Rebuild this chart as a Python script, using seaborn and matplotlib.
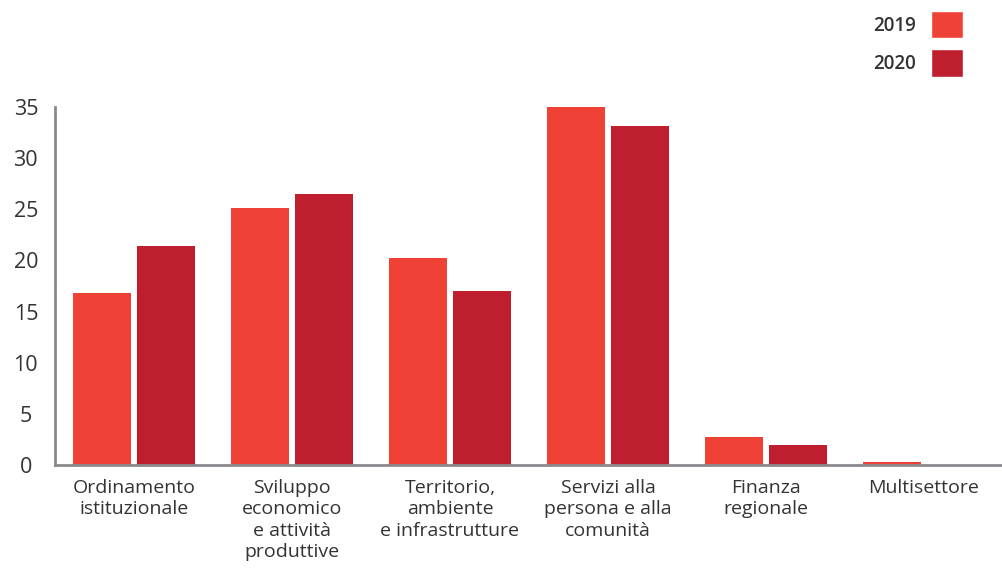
import matplotlib
matplotlib.use("Agg")
import matplotlib.pyplot as plt
from matplotlib.patches import Patch
import seaborn as sns
import pandas as pd

categories = [
    "Ordinamento\nistituzionale",
    "Sviluppo\neconomico\ne attività\nproduttive",
    "Territorio,\nambiente\ne infrastrutture",
    "Servizi alla\npersona e alla\ncomunità",
    "Finanza\nregionale",
    "Multisettore",
]
values_2019 = [16.8, 25.1, 20.2, 35.0, 2.7, 0.3]
values_2020 = [21.4, 26.5, 17.0, 33.1, 2.0, 0.0]
years = ["2019", "2020"]
colors = {"2019": "#EF4136", "2020": "#BE1E2D"}

df = pd.DataFrame({
    "categoria": categories * 2,
    "anno": ["2019"] * len(categories) + ["2020"] * len(categories),
    "valore": values_2019 + values_2020,
})

sns.set_style("white")
plt.rcParams["font.family"] = ["Open Sans", "DejaVu Sans"]

fig = plt.figure(figsize=(10.03, 5.76), dpi=100)
ax = fig.add_axes([55 / 1003, 1 - 465 / 576, 1 - 55 / 1003, (465 - 107) / 576])

sns.barplot(data=df, x="categoria", y="valore", hue="anno", palette=colors,
            width=0.815, gap=0.1, ax=ax, legend=False, saturation=1,
            linewidth=0)

ax.set_ylim(0, 35)
ax.set_xlim(-0.5, 5.5)
ax.set_yticks(range(0, 36, 5))
ax.set_xlabel("")
ax.set_ylabel("")
ax.tick_params(axis="y", labelsize=15.5, colors="#333333", length=0, pad=21)
ax.tick_params(axis="x", labelsize=14, colors="#333333", length=0, pad=10)
for lab in ax.get_yticklabels():
    lab.set_horizontalalignment("center")
for lab in ax.get_xticklabels():
    lab.set_linespacing(1.25)
sns.despine(ax=ax, top=True, right=True)
for s in ["left", "bottom"]:
    ax.spines[s].set_color("#8a8a8e")
    ax.spines[s].set_linewidth(2)

handles = [Patch(facecolor=colors[y], label=y) for y in years]
leg = fig.legend(handles=handles, loc="upper right",
                 bbox_to_anchor=(963 / 1003, 1 - 11 / 576),
                 frameon=False, markerfirst=False,
                 handlelength=1.7, handleheight=1.85, labelspacing=0.6,
                 handletextpad=0.8, borderaxespad=0, borderpad=0,
                 prop={"weight": "semibold", "size": 13.5})
for t in leg.get_texts():
    t.set_color("#333333")

fig.savefig("out.png", dpi=100)
